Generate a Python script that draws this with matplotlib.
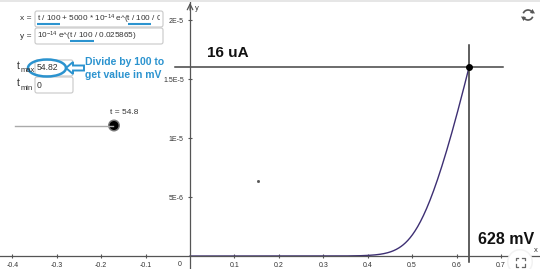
import numpy as np
import matplotlib.pyplot as plt
from matplotlib.patches import FancyBboxPatch, Ellipse, Polygon, Circle, Arc, Rectangle
from matplotlib.transforms import Bbox, TransformedBbox

plt.rcParams["mathtext.fontset"] = "custom"
plt.rcParams["mathtext.rm"] = "Liberation Sans"
plt.rcParams["mathtext.it"] = "Liberation Sans:italic"
plt.rcParams["mathtext.bf"] = "Liberation Sans:bold"

# values (GeoGebra diode plot)
i_s = 1e-14          # 10^-14
v_t = 0.025865
r_series = 5000
t_max = 54.82
t_min = 0
i_mark = 16e-6       # 16 uA
v_mark = 0.628       # 628 mV

x_ticks = [-0.4, -0.3, -0.2, -0.1, 0.1, 0.2, 0.3, 0.4, 0.5, 0.6, 0.7]
x_tick_labels = ["-0.4", "-0.3", "-0.2", "-0.1", "0.1", "0.2", "0.3", "0.4", "0.5", "0.6", "0.7"]
y_ticks = [5e-6, 1e-5, 1.5e-5, 2e-5]
y_tick_labels = ["5E-6", "1E-5", "1.5E-5", "2E-5"]

x_expr = r"t / 100 + 5000 * 10$^{-14}$ e^(t / 100 / 0.0"
y_expr = r"10$^{-14}$ e^(t / 100 / 0.025865)"

UI = ["Liberation Sans", "DejaVu Sans"]
BLUE = "#2b93cf"
EXPR_SIZE = 5.9

fig = plt.figure(figsize=(5.4, 2.69), dpi=100)
ax = fig.add_axes([0, 0, 1, 1])
ax.set_xlim(-0.428, 0.788)
ax.set_ylim(-1.1e-6, 21.7e-6)

for s in ["top", "right"]:
    ax.spines[s].set_visible(False)
for s in ["left", "bottom"]:
    ax.spines[s].set_position(("data", 0))
    ax.spines[s].set_color("#555555")
    ax.spines[s].set_linewidth(0.9)

ax.set_xticks(x_ticks)
ax.set_xticklabels(x_tick_labels)
ax.set_yticks(y_ticks)
ax.set_yticklabels(y_tick_labels)
ax.tick_params(axis="both", direction="inout", length=3, width=0.8, color="#555555",
               labelsize=5, labelcolor="#333333", pad=3)
for lab in ax.get_xticklabels() + ax.get_yticklabels():
    lab.set_family(UI)
ax.text(-0.02, -0.75e-6, "0", ha="right", va="center", fontsize=5, color="#333333", family=UI)
ax.text(0.011, 21.0e-6, "y", ha="left", va="center", fontsize=5.5, color="#333333", family=UI)
ax.text(0.782, 0.5e-6, "x", ha="right", va="center", fontsize=5.5, color="#333333", family=UI)
ax.annotate("", xy=(0, 21.7e-6), xytext=(0, 20.6e-6),
            arrowprops=dict(arrowstyle="->", color="#555555", lw=0.9))

# diode curve: x = t/100 + R*I, y = I
t = np.linspace(t_min, t_max, 400)
cur = i_s * np.exp(t / 100 / v_t)
ax.plot(t / 100 + r_series * cur, cur, color="#3d2f73", lw=1.0)

# marker lines
ax.plot([-0.034, 0.705], [i_mark, i_mark], color="#444444", lw=1.1)
ax.plot([v_mark, v_mark], [-0.5e-6, 17.9e-6], color="#333333", lw=1.1)
ax.plot([v_mark], [i_mark], "o", color="black", ms=4)
ax.text(0.038, 16.9e-6, "16 uA", fontsize=11, fontweight="bold", color="#111111", family=UI)
ax.text(0.648, 1.0e-6, "628 mV", fontsize=11.5, fontweight="bold", color="#111111", family=UI)
ax.plot([0.153], [6.4e-6], "s", color="#555555", ms=1)

# overlay in pixel coordinates for the GeoGebra widgets
ui = fig.add_axes([0, 0, 1, 1])
ui.set_xlim(0, 540)
ui.set_ylim(269, 0)
ui.axis("off")
ui.patch.set_alpha(0)
renderer = fig.canvas.get_renderer()


def text_w(s):
    tmp = ui.text(0, 0, s, fontsize=EXPR_SIZE, family=UI)
    w = tmp.get_window_extent(renderer).width
    tmp.remove()
    return w


ui.add_patch(Rectangle((0, 0), 540, 2, color="#e6e6e6", lw=0))


def box(x0, y0, w, h):
    ui.add_patch(FancyBboxPatch((x0, y0), w, h, boxstyle="round,pad=0,rounding_size=2",
                                fc="white", ec="#c8c8c8", lw=0.8))
    return TransformedBbox(Bbox([[x0 + 1, y0], [x0 + w - 3, y0 + h]]), ui.transData)


clip_x = box(35, 11, 128, 16)
clip_y = box(35, 28, 128, 16)
box(35, 60, 38, 16)
box(35, 77, 38, 16)

ui.text(32, 19, "x =", ha="right", va="center", fontsize=6, color="#333333", family=UI)
ui.text(32, 36, "y =", ha="right", va="center", fontsize=6, color="#333333", family=UI)
tx = ui.text(37, 19, x_expr, ha="left", va="center", fontsize=EXPR_SIZE, color="#333333", family=UI)
tx.set_clip_box(clip_x)
tx.set_clip_on(True)
ty = ui.text(37, 36, y_expr, ha="left", va="center", fontsize=EXPR_SIZE, color="#333333", family=UI)
ty.set_clip_box(clip_y)
ty.set_clip_on(True)

# blue underlines below each "t / 100"
seg = "t / 100"
under = [("", 24), (r"t / 100 + 5000 * 10$^{-14}$ e^(", 24), (r"10$^{-14}$ e^(", 41)]
for prefix, yy in under:
    x0 = 37 + (text_w(prefix + "|") - text_w("|") if prefix else 0)
    x1 = 37 + text_w(prefix + seg)
    ui.plot([x0, x1], [yy, yy], color=BLUE, lw=1.5, solid_capstyle="butt")

ui.text(37, 68, "54.82", ha="left", va="center", fontsize=6.2, color="#333333", family=UI)
ui.text(37, 85, "0", ha="left", va="center", fontsize=6.2, color="#333333", family=UI)
ui.text(17, 66, "t", ha="left", va="center", fontsize=7.5, color="#333333", family=UI)
ui.text(21, 71, "max", ha="left", va="center", fontsize=5.5, color="#333333", family=UI)
ui.text(17, 83, "t", ha="left", va="center", fontsize=7.5, color="#333333", family=UI)
ui.text(21, 88, "min", ha="left", va="center", fontsize=5.5, color="#333333", family=UI)

ui.add_patch(Ellipse((47, 68), 38, 17, fill=False, ec=BLUE, lw=1.8))
ui.add_patch(Polygon([(66, 68), (73, 62), (73, 65.5), (84, 65.5), (84, 70.5), (73, 70.5), (73, 74)],
                     closed=True, fc="white", ec=BLUE, lw=1.4))
ui.text(85, 62, "Divide by 100 to", ha="left", va="center", fontsize=7.5, fontweight="bold",
        color=BLUE, family=UI)
ui.text(85, 75, "get value in mV", ha="left", va="center", fontsize=7.5, fontweight="bold",
        color=BLUE, family=UI)

# slider
ui.plot([15, 113], [126, 126], color="#aaaaaa", lw=1.0)
ui.add_patch(Circle((114, 125.5), 6, fc="#777777", ec="none"))
ui.add_patch(Circle((114, 125.5), 4.5, fc="black", ec="none"))
ui.text(124, 113, "t = 54.8", ha="center", va="center", fontsize=6, color="#333333", family=UI)

# refresh icon
ui.add_patch(Arc((528, 15), 10, 10, theta1=200, theta2=340, color="#555555", lw=1.2))
ui.add_patch(Arc((528, 15), 10, 10, theta1=20, theta2=160, color="#555555", lw=1.2))
ui.add_patch(Polygon([(532.5, 9), (535, 13.5), (530, 13)], closed=True, fc="#555555", ec="none"))
ui.add_patch(Polygon([(523.5, 21), (521, 16.5), (526, 17)], closed=True, fc="#555555", ec="none"))

# fullscreen icon
ui.add_patch(Circle((520, 262), 13, fc="#f2f2f2", ec="none"))
ui.add_patch(Circle((520, 262), 11.5, fc="white", ec="none"))
for sx in (-1, 1):
    for sy in (-1, 1):
        cx, cy = 520 + sx * 4.5, 262 + sy * 4.5
        ui.plot([cx, cx, cx - sx * 2.5], [cy - sy * 2.5, cy, cy], color="#666666", lw=0.9)

fig.savefig("out.png", dpi=100)
